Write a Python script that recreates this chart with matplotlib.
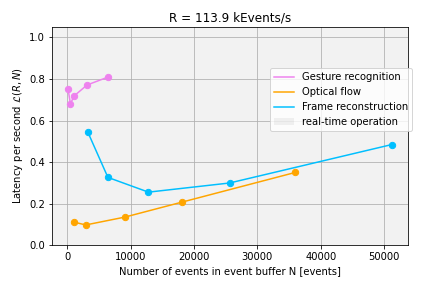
import matplotlib
matplotlib.use('Agg')
import matplotlib.pyplot as plt

# buffer sizes N [events] and latency per second L(R, N)
gesture_n = [100, 480, 1050, 3100, 6400]
gesture_lat = [0.752, 0.680, 0.718, 0.771, 0.809]

flow_n = [1000, 2900, 9100, 18100, 36000]
flow_lat = [0.111, 0.097, 0.135, 0.207, 0.350]

frame_n = [3200, 6400, 12800, 25600, 51200]
frame_lat = [0.546, 0.326, 0.255, 0.299, 0.484]

fig = plt.figure(figsize=(6, 4), dpi=72)
ax = fig.add_axes([0.120, 0.149, 0.824, 0.757])

ax.plot(gesture_n, gesture_lat, color='violet', label='Gesture recognition')
ax.scatter(gesture_n, gesture_lat, color='violet', s=40, zorder=3)
ax.plot(flow_n, flow_lat, color='orange', label='Optical flow')
ax.scatter(flow_n, flow_lat, color='orange', s=40, zorder=3)
ax.plot(frame_n, frame_lat, color='deepskyblue', label='Frame reconstruction')
ax.scatter(frame_n, frame_lat, color='deepskyblue', s=40, zorder=3)

ax.set_ylim(0, 1.05)
# real-time region shading
ax.axhspan(0, 1.05, color='gray', alpha=0.1, lw=0, label='real-time operation')

ax.grid(True)
ax.set_title('R = 113.9 kEvents/s')
ax.set_xlabel('Number of events in event buffer N [events]')
ax.set_ylabel(r'Latency per second $\mathcal{L}(R, N)$')
ax.legend(loc='upper right', bbox_to_anchor=(1.013, 0.81), borderaxespad=0)

plt.savefig('out.png', dpi=72)
